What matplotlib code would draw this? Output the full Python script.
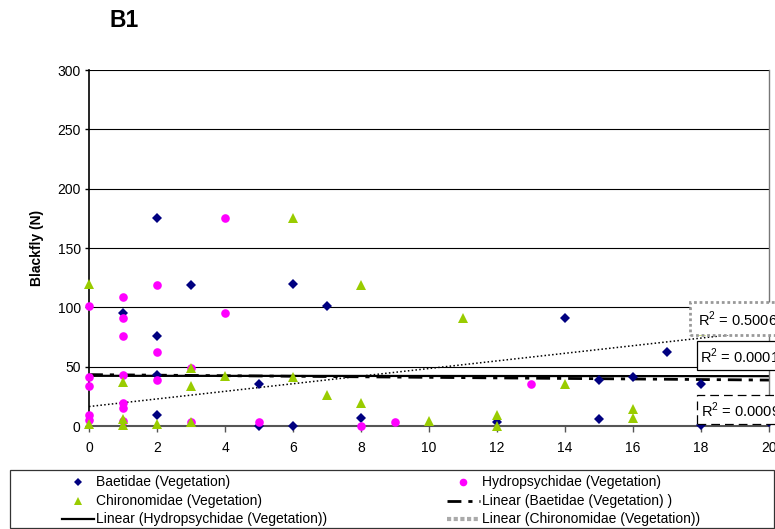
import matplotlib
matplotlib.use('Agg')
import matplotlib.pyplot as plt
from matplotlib.lines import Line2D
from matplotlib.patches import Rectangle

plt.rcParams['font.family'] = ['Liberation Sans', 'DejaVu Sans']
plt.rcParams['mathtext.fontset'] = 'custom'
plt.rcParams['mathtext.rm'] = 'Liberation Sans'

# Data (x = sample position, y = blackfly count)
baetidae_x = [1, 2, 2, 2, 2, 3, 5, 5, 6, 6, 7, 8, 12, 14, 15, 15, 16, 17, 18, 18, 20]
baetidae_y = [95, 175, 76, 43, 9, 119, 35, 0, 120, 0, 101, 7, 3, 91, 39, 6, 41, 62, 35, 1, 3]

hydro_x = [0, 0, 0, 0, 0, 1, 1, 1, 1, 1, 1, 1, 2, 2, 2, 3, 3, 4, 4, 5, 8, 9, 13]
hydro_y = [101, 41, 34, 9, 5, 109, 91, 76, 43, 19, 15, 4, 119, 62, 39, 49, 3, 175, 95, 3, 0, 3, 35]

chiro_x = [0, 0, 1, 1, 1, 2, 3, 3, 3, 4, 6, 6, 7, 8, 8, 10, 11, 12, 12, 14, 16, 16, 18]
chiro_y = [120, 2, 37, 6, 1, 2, 49, 34, 3, 42, 175, 41, 26, 119, 19, 4, 91, 9, 0, 35, 14, 7, 80]

# Linear trendlines (end points)
fit_x = [0, 20]
baetidae_fit = [43.3, 38.7]
hydro_fit = [42.3, 42.0]
chiro_fit = [16.4, 80.5]

r2_chiro = 0.5006
r2_hydro = 0.0001
r2_baetidae = 0.0009

NAVY = '#000080'
PINK = '#FF00FF'
GREEN = '#99CC00'

W, H = 775, 529
fig = plt.figure(figsize=(W / 100, H / 100), dpi=100, facecolor='white')


def fx(x):
    return x / W


def fy(y):
    return 1 - y / H


ax = fig.add_axes([fx(89), fy(426), 680 / W, 356 / H])
ax.set_xlim(0, 20)
ax.set_ylim(0, 300)

for v in range(50, 301, 50):
    ax.axhline(v, color='black', lw=0.8, zorder=1)

dashdot = (0, (5, 2.5, 1.5, 2.5))
dotted = (0, (1, 1.5))
ax.plot(fit_x, baetidae_fit, color='black', lw=2, ls=dashdot, zorder=2)
ax.plot(fit_x, hydro_fit, color='black', lw=1.6, zorder=2)
ax.plot(fit_x, chiro_fit, color='black', lw=1.1, ls=dotted, zorder=2)

ax.plot(baetidae_x, baetidae_y, 'D', color=NAVY, ms=5, mew=0, clip_on=False, zorder=3)
ax.plot(hydro_x, hydro_y, 'o', color=PINK, ms=6.2, mew=0, clip_on=False, zorder=3)
ax.plot(chiro_x, chiro_y, '^', color=GREEN, ms=7.2, mew=0, clip_on=False, zorder=3)

ax.spines['top'].set_visible(False)
ax.spines['left'].set_color('black')
ax.spines['left'].set_linewidth(1.2)
ax.spines['bottom'].set_color('#555555')
ax.spines['bottom'].set_linewidth(1.5)
ax.spines['right'].set_color('#777777')
ax.spines['right'].set_linewidth(1)

ax.set_xticks(range(0, 21, 2))
ax.set_yticks(range(0, 301, 50))
ax.tick_params(axis='x', direction='out', length=4, width=1, pad=7, labelsize=10, colors='#555555', labelcolor='black')
ax.tick_params(axis='y', direction='out', length=3, width=1, pad=3, labelsize=10)

fig.text(fx(37), fy(248), 'Blackfly (N)', rotation=90, ha='center', va='center',
         fontsize=10, fontweight='bold')
fig.text(fx(124), fy(20.5), 'B1', ha='center', va='center', fontsize=16.5, fontweight='bold')

# R-squared labels (boxes run off the right edge, as in the original)
boxes = [
    (690, 302, 335, 698, r2_chiro, dict(edgecolor='#999999', lw=2, ls=(0, (1, 1)))),
    (697, 341, 370, 700, r2_hydro, dict(edgecolor='black', lw=0.9, ls='-')),
    (697, 395, 424, 701, r2_baetidae, dict(edgecolor='black', lw=0.9, ls=(0, (7, 4)))),
]
for left, top, bottom, tx, r2, style in boxes:
    fig.add_artist(Rectangle((fx(left), fy(bottom)), 120 / W, (bottom - top) / H,
                             transform=fig.transFigure, facecolor='white', zorder=5, **style))
    fig.text(fx(tx), fy((top + bottom) / 2 + 1), r'R$^2$ = %.4f' % r2, ha='left', va='center',
             fontsize=10.5, zorder=6)

# Legend
fig.add_artist(Rectangle((fx(10), fy(528)), 764 / W, 58 / H, transform=fig.transFigure,
                         facecolor='white', edgecolor='#333333', lw=0.9, zorder=5))
rows = [482, 500.5, 519]
entries = [
    (0, rows[0], 'Baetidae (Vegetation)', dict(marker='D', color=NAVY, ms=3.8, mew=0, ls='none')),
    (1, rows[0], 'Hydropsychidae (Vegetation)', dict(marker='o', color=PINK, ms=5.5, mew=0, ls='none')),
    (0, rows[1], 'Chironomidae (Vegetation)', dict(marker='^', color=GREEN, ms=5.5, mew=0, ls='none')),
    (1, rows[1], 'Linear (Baetidae (Vegetation) )', dict(color='black', lw=2, ls=dashdot)),
    (0, rows[2], 'Linear (Hydropsychidae (Vegetation))', dict(color='black', lw=1.6)),
    (1, rows[2], 'Linear (Chironomidae (Vegetation))', dict(color='#aaaaaa', lw=3, ls=(0, (1, 0.6)))),
]
cols = [(62, 94, 96), (447, 480, 482)]
for col, y, label, style in entries:
    x1, x2, tx = cols[col]
    if 'marker' in style:
        xs = [fx((x1 + x2) / 2)]
        ys = [fy(y)]
    else:
        xs = [fx(x1), fx(x2)]
        ys = [fy(y), fy(y)]
    fig.add_artist(Line2D(xs, ys, transform=fig.transFigure, zorder=6, **style))
    fig.text(fx(tx), fy(y), label, ha='left', va='center', fontsize=10, zorder=6)

fig.savefig('out.png', dpi=100)
